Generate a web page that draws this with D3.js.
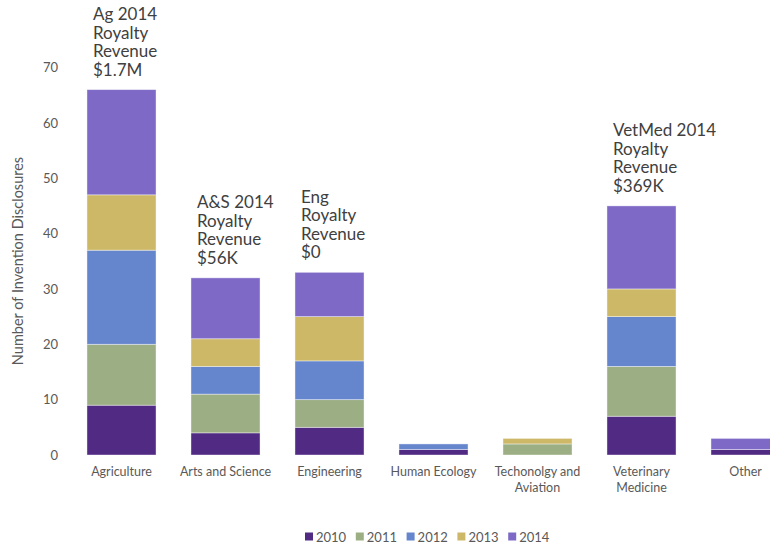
<!DOCTYPE html>
<html>
<head>
<meta charset="utf-8">
<script src="https://cdn.jsdelivr.net/npm/d3@7"></script>
<style>
  body { margin: 0; background: #fff; }
  svg { font-family: Lato, "Open Sans", sans-serif; }
</style>
</head>
<body>
<svg width="770" height="547"></svg>
<script>
// categories and labels (as drawn, wrapped)
const categories = ["Agriculture", "Arts and Science", "Engineering", "Human Ecology", "Techonolgy and Aviation", "Veterinary Medicine", "Other"];
const categoryLines = [["Agriculture"], ["Arts and Science"], ["Engineering"], ["Human Ecology"], ["Techonolgy and", "Aviation"], ["Veterinary", "Medicine"], ["Other"]];

const years = ["2010", "2011", "2012", "2013", "2014"];
const v2010 = [9, 4, 5, 1, 0, 7, 1];
const v2011 = [11, 7, 5, 0, 2, 9, 0];
const v2012 = [17, 5, 7, 1, 0, 9, 0];
const v2013 = [10, 5, 8, 0, 1, 5, 0];
const v2014 = [19, 11, 8, 0, 0, 15, 2];
const yTicks = [0, 10, 20, 30, 40, 50, 60, 70];

const noteCats = ["Agriculture", "Arts and Science", "Engineering", "Veterinary Medicine"];
const noteLines = [
    ["Ag 2014", "Royalty", "Revenue", "$1.7M"],
    ["A&S 2014", "Royalty", "Revenue", "$56K"],
    ["Eng", "Royalty", "Revenue", "$0"],
    ["VetMed 2014", "Royalty", "Revenue", "$369K"]
];

const colors = ["#512a84", "#9caf84", "#6585cd", "#cdb868", "#7e6ac6"];

const rows = categories.map((c, i) => ({
    cat: c, "2010": v2010[i], "2011": v2011[i], "2012": v2012[i], "2013": v2013[i], "2014": v2014[i]
}));
const stacked = d3.stack().keys(years)(rows);

const svg = d3.select("svg");

const x = d3.scaleBand()
    .domain(categories)
    .range([69.5, 797.5])
    .paddingInner(0.336)
    .paddingOuter(0.168);

const y = d3.scaleLinear()
    .domain([0, 70])
    .range([455, 67.5]);

const color = d3.scaleOrdinal().domain(years).range(colors);

// bars
svg.append("g").selectAll("g")
    .data(stacked)
    .enter()
    .append("g")
    .attr("fill", d => color(d.key))
    .selectAll("rect")
    .data(d => d)
    .enter()
    .append("rect")
    .attr("x", d => x(d.data.cat))
    .attr("y", d => y(d[1]))
    .attr("width", x.bandwidth())
    .attr("height", d => y(d[0]) - y(d[1]))
    .attr("stroke", "#ffffff")
    .attr("stroke-opacity", 0.5)
    .attr("stroke-width", 0.8);

// y axis
const yAxis = svg.append("g")
    .attr("transform", "translate(66,0)")
    .call(d3.axisLeft(y).tickValues(yTicks).tickSize(0).tickPadding(8));
yAxis.select(".domain").remove();
yAxis.selectAll("text")
    .attr("fill", "#595959")
    .style("font-size", "13px")
    .style("font-family", "Lato, sans-serif");

// y title
svg.append("text")
    .attr("transform", "translate(23,261) rotate(-90)")
    .attr("text-anchor", "middle")
    .attr("fill", "#595959")
    .style("font-size", "14.5px")
    .text("Number of Invention Disclosures");

// x labels
const xl = svg.append("g").selectAll("text")
    .data(categories)
    .enter()
    .append("text")
    .attr("text-anchor", "middle")
    .attr("fill", "#595959")
    .style("font-size", "12.5px")
    .attr("x", d => x(d) + x.bandwidth() / 2)
    .attr("y", 476);
xl.selectAll("tspan")
    .data((d, i) => categoryLines[i])
    .enter()
    .append("tspan")
    .attr("x", function() { return d3.select(this.parentNode).attr("x"); })
    .attr("dy", (d, i) => i === 0 ? 0 : 16)
    .text(d => d);

// annotations
const totals = categories.map((c, i) => v2010[i] + v2011[i] + v2012[i] + v2013[i] + v2014[i]);
noteCats.forEach((c, k) => {
    const i = categories.indexOf(c);
    const lines = noteLines[k];
    const baseY = y(totals[i]) - 14 - (lines.length - 1) * 18.5;
    const t = svg.append("text")
        .attr("fill", "#404040")
        .style("font-size", "17px");
    t.selectAll("tspan")
        .data(lines)
        .enter()
        .append("tspan")
        .attr("x", x(c) + 6)
        .attr("y", (d, j) => baseY + j * 18.5)
        .text(d => d);
});

// legend
const legend = svg.append("g")
    .attr("transform", "translate(305,537)");
const li = legend.selectAll("g")
    .data(years)
    .enter()
    .append("g")
    .attr("transform", (d, i) => `translate(${i * 50.8},0)`);
li.append("rect")
    .attr("x", 0)
    .attr("y", -4.5)
    .attr("width", 8)
    .attr("height", 8)
    .attr("fill", d => color(d));
li.append("text")
    .attr("x", 11)
    .attr("y", 4.5)
    .attr("fill", "#595959")
    .style("font-size", "13px")
    .text(d => d);
</script>
</body>
</html>
